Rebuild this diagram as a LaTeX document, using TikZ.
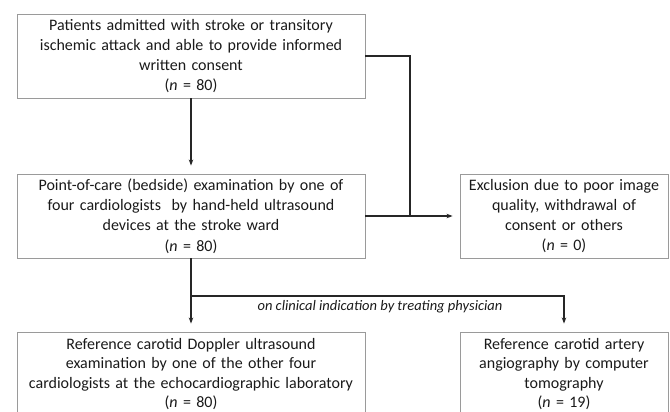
\documentclass[tikz,border=0pt]{standalone}
\usepackage{fontspec}
\setmainfont{Carlito}
\usetikzlibrary{arrows.meta}
\definecolor{boxgray}{HTML}{9A9A9A}
\definecolor{linegray}{HTML}{262626}
\definecolor{txt}{HTML}{1A1A1A}
\tikzset{
  flowbox/.style={draw=boxgray, line width=0.9pt, align=center, inner sep=0pt,
    minimum height=84pt, text=txt, font=\fontsize{16}{20.2}\selectfont},
  widebox/.style={flowbox, text width=348pt},
  narrowbox/.style={flowbox, text width=208pt},
  conn/.style={draw=linegray, line width=1.1pt},
  arr/.style={conn, -{Stealth[length=6pt,width=4.5pt]}}
}
\begin{document}
\begin{tikzpicture}[x=1pt,y=-1pt]
\useasboundingbox (0,0) rectangle (670,412);
\clip (0,0) rectangle (670,412);
\node[widebox] (b1) at (191,56) {Patients admitted with stroke or transitory\\ischemic attack and able to provide informed\\written consent\\(\textit{n} = 80)};
\node[widebox] (b2) at (191,216) {Point-of-care (bedside) examination by one of\\four cardiologists\ \ by hand-held ultrasound\\devices at the stroke ward\\(\textit{n} = 80)};
\node[narrowbox] (ex) at (564,216) {Exclusion due to poor image\\quality, withdrawal of\\consent or others\\(\textit{n} = 0)};
\node[widebox, font=\fontsize{16}{19.6}\selectfont] (b3) at (191,374) {Reference carotid Doppler ultrasound\\examination by one of the other four\\cardiologists at the echocardiographic laboratory\\(\textit{n} = 80)};
\node[narrowbox, font=\fontsize{16}{19.6}\selectfont] (b4) at (564,374) {Reference carotid artery\\angiography by computer\\tomography\\(\textit{n} = 19)};
\coordinate (j) at (410,216);
\coordinate (br) at (191,296);
\draw[arr, shorten >=8pt] (b1.south) -- (b2.north);
\draw[conn] (b1.east) -| (j);
\draw[arr, shorten >=7pt] (b2.east) -- (ex.west);
\draw[arr, shorten >=8pt] (b2.south) -- (b3.north);
\draw[arr, shorten >=8pt] (br) -| (b4.north);
\node[text=txt, font=\itshape\fontsize{14.5}{16}\selectfont] (lbl) at (380,307) {on clinical indication by treating physician};
\end{tikzpicture}
\end{document}
